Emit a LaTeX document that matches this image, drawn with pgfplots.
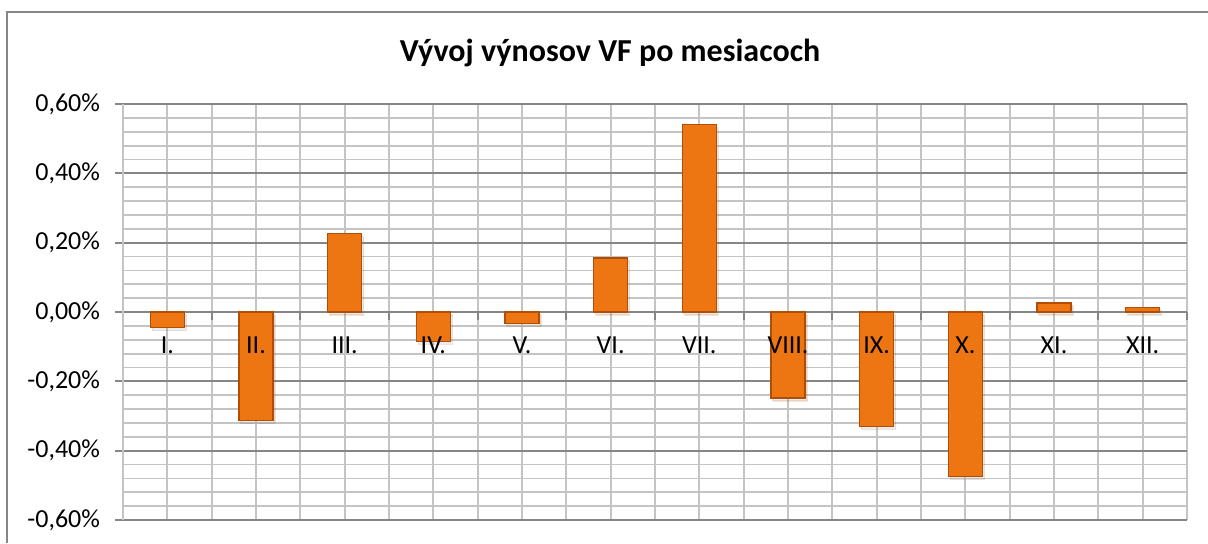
\documentclass[border=0pt]{standalone}
\usepackage{fontspec}
\setmainfont{Carlito}
\usepackage{pgfplots}
\pgfplotsset{compat=1.18}
\usetikzlibrary{shadows}

\definecolor{barfill}{RGB}{238,118,18}
\definecolor{baredge}{RGB}{176,78,8}
\definecolor{gridmaj}{RGB}{134,134,134}
\definecolor{gridmin}{RGB}{196,196,196}

\pgfplotsset{
  frame/.style={
    at={(61.5pt,11.5pt)}, anchor=south west,
    scale only axis, width=532pt, height=208pt,
    xmin=0.5, xmax=12.5, ymin=-0.6, ymax=0.6,
    axis x line=middle, axis y line=left,
    hide obscured x ticks=false, hide obscured y ticks=false,
    font=\fontsize{13}{15}\selectfont,
    xtick={1,...,12},
    xticklabel style={yshift=-6.5pt},
  },
}

\begin{document}
\begin{tikzpicture}
\useasboundingbox (0,0) rectangle (604pt,271.5pt);
\draw[gridmaj, line width=1pt] (3.5pt,0) -- (3.5pt,265.5pt) -- (604pt,265.5pt);
\node[font=\fontsize{16}{19}\selectfont\bfseries] at (305pt,245pt) {Vývoj výnosov VF po mesiacoch};
\begin{axis}[
  frame,
  x axis line style={-, gridmaj, line width=0.9pt},
  y axis line style={-, gridmin, line width=0.9pt},
  xticklabels={},
  minor xtick={0.5,1.5,...,12.5},
  ytick={-0.6,-0.4,-0.2,0,0.2,0.4,0.6},
  yticklabels={{-0,60\%},{-0,40\%},{-0,20\%},{0,00\%},{0,20\%},{0,40\%},{0,60\%}},
  minor y tick num=4,
  tick align=outside,
  major tick length=4pt, minor tick length=4pt,
  major x tick style={draw=none},
  minor x tick style={gridmaj, line width=0.9pt},
  major y tick style={gridmaj, line width=0.9pt},
  minor y tick style={draw=none},
  grid=both,
  major x grid style={gridmin, line width=0.9pt},
  minor x grid style={gridmin, line width=0.9pt},
  major y grid style={gridmaj, line width=0.9pt},
  minor y grid style={gridmin, line width=0.9pt},
  yticklabel style={xshift=-4pt},
  ybar, bar width=17pt,
]
\addplot[fill=barfill, draw=baredge, line width=0.6pt,
  drop shadow={opacity=0.15, shadow xshift=1pt, shadow yshift=-1.5pt}]
  coordinates {(1,-0.045) (2,-0.313) (3,0.226) (4,-0.084) (5,-0.0335) (6,0.156)
               (7,0.54) (8,-0.248) (9,-0.33) (10,-0.474) (11,0.026) (12,0.014)};
\end{axis}
% second pass: month labels on top of the bars
\begin{axis}[
  frame,
  axis line style={draw=none},
  tick style={draw=none},
  ytick=\empty,
  xticklabels={I.,II.,III.,IV.,V.,VI.,VII.,VIII.,IX.,X.,XI.,XII.},
]
\end{axis}
\end{tikzpicture}
\end{document}
